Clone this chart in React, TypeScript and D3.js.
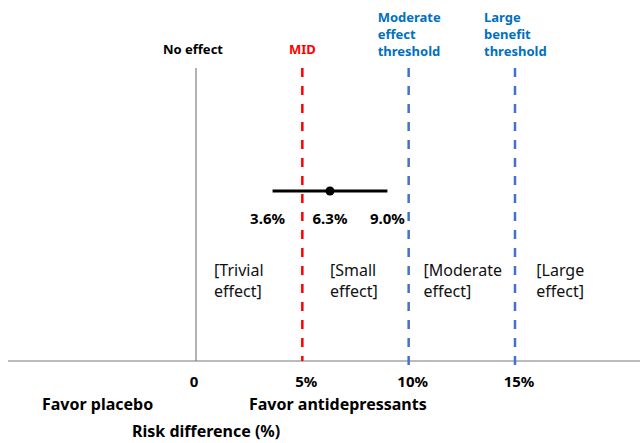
import React from "react";
import * as d3 from "d3";

const tickValues = [0, 5, 10, 15];
const tickLabels = ["0", "5%", "10%", "15%"];
const ciLower = 3.6;
const ciPoint = 6.3;
const ciUpper = 9.0;
const ciLabels = ["3.6%", "6.3%", "9.0%"];
const thresholds = [
  { value: 5, color: "#FF0000", lines: ["MID"] },
  { value: 10, color: "#4472C4", lines: ["Moderate", "effect", "threshold"] },
  { value: 15, color: "#4472C4", lines: ["Large", "benefit", "threshold"] },
];
const regionLabels = [
  { x: 0.85, lines: ["[Trivial", "effect]"] },
  { x: 6.3, lines: ["[Small", "effect]"] },
  { x: 10.7, lines: ["[Moderate", "effect]"] },
  { x: 16.0, lines: ["[Large", "effect]"] },
];

const W = 640;
const H = 443;
const font = "'Noto Sans', 'Open Sans', sans-serif";

export default function App() {
  const x = d3.scaleLinear().domain([0, 15]).range([196, 515]);
  const axisY = 361;
  const topY = 68;
  const ciY = 191;
  const labelColor = "#0070C0";

  return (
    <svg
      width={W}
      height={H}
      style={{ position: "absolute", left: 0, top: 0, background: "#fff" }}
      fontFamily={font}
    >
      <line x1={8} x2={640} y1={axisY} y2={axisY} stroke="#777" strokeWidth={1} />
      <line x1={x(0)} x2={x(0)} y1={topY} y2={axisY} stroke="#666" strokeWidth={1} />
      <text x={x(0) - 3} y={54} textAnchor="middle" fontSize={13} fontWeight="bold" fill="#000">
        No effect
      </text>
      {thresholds.map((t, i) => (
        <g key={i}>
          <line
            x1={x(t.value)}
            x2={x(t.value)}
            y1={topY}
            y2={i === 0 ? axisY : axisY + 9}
            stroke={t.color}
            strokeWidth={2.5}
            strokeDasharray="9,9"
          />
          {t.lines.length === 1 ? (
            <text x={x(t.value)} y={54} textAnchor="middle" fontSize={13} fontWeight="bold" fill={t.color}>
              {t.lines[0]}
            </text>
          ) : (
            t.lines.map((l, j) => (
              <text
                key={j}
                x={x(t.value) - 31}
                y={22 + j * 17}
                fontSize={13}
                fontWeight="bold"
                fill={labelColor}
              >
                {l}
              </text>
            ))
          )}
        </g>
      ))}
      <line x1={x(ciLower)} x2={x(ciUpper)} y1={ciY} y2={ciY} stroke="#000" strokeWidth={3} />
      <circle cx={x(ciPoint)} cy={ciY} r={4.5} fill="#000" />
      {[ciLower, ciPoint, ciUpper].map((v, i) => (
        <text key={i} x={x(v) + (i === 0 ? -5 : 0)} y={224} textAnchor="middle" fontSize={15} fontWeight="bold" fill="#000">
          {ciLabels[i]}
        </text>
      ))}
      {regionLabels.map((r, i) =>
        r.lines.map((l, j) => (
          <text key={`${i}-${j}`} x={x(r.x)} y={276 + j * 21} fontSize={16} fill="#111">
            {l}
          </text>
        ))
      )}
      {tickValues.map((v, i) => (
        <text key={i} x={x(v) + (i === 0 ? -2 : 4)} y={387} textAnchor="middle" fontSize={15} fontWeight="bold" fill="#000">
          {tickLabels[i]}
        </text>
      ))}
      <text x={42} y={410} fontSize={16} fontWeight="bold" fill="#000">Favor placebo</text>
      <text x={249} y={410} fontSize={16} fontWeight="bold" fill="#000">Favor antidepressants</text>
      <text x={132} y={437} fontSize={16} fontWeight="bold" fill="#000">Risk difference (%)</text>
    </svg>
  );
}
